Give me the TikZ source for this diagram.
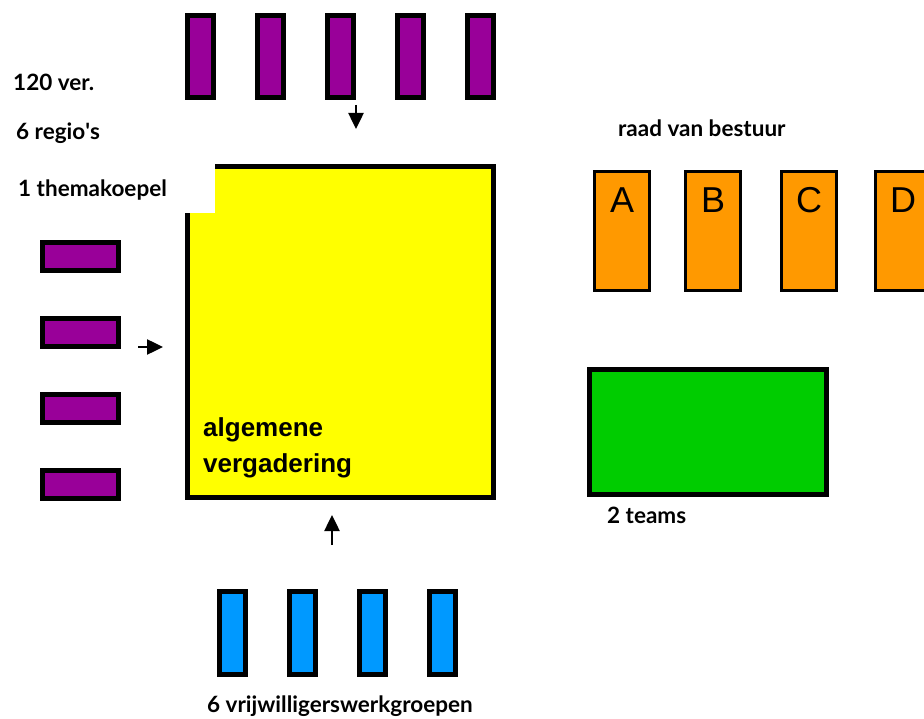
\documentclass[tikz,border=0pt]{standalone}
\usepackage{fontspec}
\setmainfont{Lato}
\newfontfamily\arialfont{Liberation Sans}
\usetikzlibrary{arrows.meta}

\definecolor{paars}{HTML}{990099}
\definecolor{geel}{HTML}{FFFF00}
\definecolor{oranje}{HTML}{FF9900}
\definecolor{groen}{HTML}{00CC00}
\definecolor{blauw}{HTML}{0099FF}

\begin{document}
\begin{tikzpicture}[x=1pt,y=-1pt,
  box/.style={draw=black, line width=5pt, inner sep=0pt, outer sep=0pt},
  vbar/.style={box, fill=paars, minimum width=26pt, minimum height=82pt},
  hbar/.style={box, fill=paars, minimum width=76pt, minimum height=28pt},
  bbar/.style={box, fill=blauw, minimum width=26pt, minimum height=83pt},
  member/.style={draw=black, line width=3pt, fill=oranje, inner sep=0pt,
    minimum width=55pt, minimum height=119pt},
  letter/.style={anchor=base, inner sep=0pt, font=\arialfont\fontsize{36}{36}\selectfont},
  lbl/.style={anchor=base west, inner sep=0pt, font=\bfseries\fontsize{22.5}{22.5}\selectfont},
  avlbl/.style={anchor=base west, inner sep=0pt, font=\arialfont\bfseries\fontsize{26}{26}\selectfont},
  flow/.style={line width=2.5pt, -{Triangle[length=16pt,width=15pt]}}
]
\useasboundingbox (0,0) rectangle (924,719);

% algemene vergadering
\node[box, fill=geel, minimum width=306pt, minimum height=331pt] (av) at (340.5,332) {};
\fill[white] (183,161) rectangle (215,213);
\node[avlbl] (avtxt1) at (203,436) {algemene};
\node[avlbl] (avtxt2) at (203,472) {vergadering};

% verenigingen bovenaan
\foreach \i/\x in {1/200.5,2/270.5,3/340.5,4/410.5,5/480.5}
  \node[vbar] (ver\i) at (\x,56.5) {};

% regio's links
\foreach \i/\y in {1/256.5,2/332.5,3/408.5,4/484.5}
  \node[hbar] (reg\i) at (80.5,\y) {};

% vrijwilligerswerkgroepen onderaan
\foreach \i/\x in {1/232.5,2/302.5,3/372.5,4/442.5}
  \node[bbar] (wg\i) at (\x,633) {};

% raad van bestuur
\node[member] (rvbA) at (622,231) {};
\node[member] (rvbB) at (713,231) {};
\node[member] (rvbC) at (809,231) {};
\node[member] (rvbD) at (903,231) {};
\node[letter] (lA) at (622,213) {A};
\node[letter] (lB) at (713,213) {B};
\node[letter] (lC) at (809,213) {C};
\node[letter] (lD) at (903,213) {D};

% teams
\node[box, fill=groen, minimum width=237pt, minimum height=125pt] (teams) at (708,432) {};

% labels
\node[lbl] (t120) at (13,91) {120 ver.};
\node[lbl] (tregio) at (16,140) {6 regio\textquotesingle s};
\node[lbl] (tkoepel) at (18,197) {1 themakoepel};
\node[lbl] (trvb) at (618,137) {raad van bestuur};
\node[lbl] (tteams) at (607,523) {2 teams};
\node[lbl] (twg) at (207,712) {6 vrijwilligerswerkgroepen};

% pijlen naar de algemene vergadering
\coordinate (topFrom) at (356,105);
\coordinate (topTo) at (356,129);
\coordinate (leftFrom) at (138,347);
\coordinate (leftTo) at (163,347);
\coordinate (botFrom) at (332,545);
\coordinate (botTo) at (332,515);
\draw[flow] (topFrom) -- (topTo);
\draw[flow] (leftFrom) -- (leftTo);
\draw[flow] (botFrom) -- (botTo);
\end{tikzpicture}
\end{document}
